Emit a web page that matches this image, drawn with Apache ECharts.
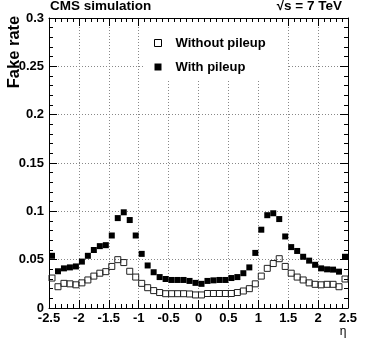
<!DOCTYPE html>
<html lang="en">
<head>
    <meta charset="UTF-8">
    <title>Fake rate</title>
    <script src="https://cdn.jsdelivr.net/npm/echarts@6/dist/echarts.min.js"></script>
</head>
<style>
html,body{margin:0;padding:0;background-color:#fff}
#chartBox{width:374px;height:355px}
</style>
<body>
    <div id="chartBox"></div>
</body>
<script>
// bin centres in eta
var etaBins = [
    -2.45, -2.35, -2.25, -2.15, -2.05, -1.95, -1.85, -1.75, -1.65, -1.55,
    -1.45, -1.35, -1.25, -1.15, -1.05, -0.95, -0.85, -0.75, -0.65, -0.55,
    -0.45, -0.35, -0.25, -0.15, -0.05, 0.05, 0.15, 0.25, 0.35, 0.45,
    0.55, 0.65, 0.75, 0.85, 0.95, 1.05, 1.15, 1.25, 1.35, 1.45,
    1.55, 1.65, 1.75, 1.85, 1.95, 2.05, 2.15, 2.25, 2.35, 2.45
];
var withoutPileup = [
    0.031, 0.022, 0.0255, 0.025, 0.024, 0.026, 0.029, 0.033, 0.036, 0.0376,
    0.043, 0.050, 0.047, 0.038, 0.032, 0.0255, 0.021, 0.018, 0.016, 0.0148,
    0.0148, 0.0148, 0.0148, 0.0145, 0.0135, 0.0135, 0.015, 0.015, 0.015, 0.015,
    0.015, 0.016, 0.0176, 0.020, 0.025, 0.033, 0.041, 0.046, 0.051, 0.043,
    0.036, 0.032, 0.029, 0.026, 0.0245, 0.024, 0.0245, 0.0245, 0.022, 0.030
];
var withPileup = [
    0.054, 0.038, 0.041, 0.042, 0.043, 0.048, 0.054, 0.060, 0.064, 0.065,
    0.075, 0.093, 0.099, 0.091, 0.075, 0.056, 0.044, 0.037, 0.032, 0.030,
    0.029, 0.029, 0.029, 0.028, 0.026, 0.025, 0.028, 0.0286, 0.029, 0.029,
    0.031, 0.032, 0.036, 0.042, 0.057, 0.081, 0.096, 0.098, 0.092, 0.074,
    0.063, 0.059, 0.053, 0.049, 0.0447, 0.041, 0.040, 0.0397, 0.0376, 0.053
];
var xTicks = ['-2.5', '-2', '-1.5', '-1', '-0.5', '0', '0.5', '1', '1.5', '2', '2.5'];
var yTicks = ['0', '0.05', '0.1', '0.15', '0.2', '0.25', '0.3'];

var FONT = '"Liberation Sans", Arial, sans-serif';

function pairs(xs, ys){
    return xs.map(function(x, i){ return [x, ys[i]]; });
}

function frameAxis(base, visible){
    return Object.assign({
        type: 'value',
        axisLine: {show: true, onZero: false, lineStyle: {color: '#000', width: 1}},
        axisTick: {show: true, inside: true, length: 8, lineStyle: {color: '#000'}},
        minorTick: {show: true, splitNumber: 5, length: 4, lineStyle: {color: '#000'}},
        splitLine: {show: visible, lineStyle: {color: '#888', type: [1, 2], width: 1}},
        minorSplitLine: {show: false}
    }, base);
}

function generateChartOption(){
    var xLabel = {
        show: true, margin: 4, color: '#000', fontWeight: 'bold', fontSize: 13, fontFamily: FONT,
        formatter: function(v){ var s = String(Math.round(v * 10) / 10); return xTicks.indexOf(s) >= 0 ? s : ''; }
    };
    var yLabel = {
        show: true, margin: 5, color: '#000', fontWeight: 'bold', fontSize: 13, fontFamily: FONT,
        formatter: function(v){ var s = String(Math.round(v * 100) / 100); return yTicks.indexOf(s) >= 0 ? s : ''; }
    };
    return {
        animation: false,
        textStyle: {fontFamily: FONT},
        title: [
            {text: 'CMS simulation', left: 50, top: -1, padding: 0,
                textStyle: {fontSize: 13.5, fontWeight: 'bold', color: '#000', fontFamily: FONT}},
            {text: '√s = 7 TeV', right: 32, top: -1, padding: 0,
                textStyle: {fontSize: 13.5, fontWeight: 'bold', color: '#000', fontFamily: FONT}}
        ],
        grid: {left: 49, right: 26, top: 18, bottom: 47, containLabel: false},
        xAxis: [
            frameAxis({min: -2.5, max: 2.5, interval: 0.5, position: 'bottom', axisLabel: xLabel}, true),
            frameAxis({min: -2.5, max: 2.5, interval: 0.5, position: 'top', axisLabel: {show: false}}, false)
        ],
        yAxis: [
            frameAxis({min: 0, max: 0.3, interval: 0.05, position: 'left', axisLabel: yLabel}, true),
            frameAxis({min: 0, max: 0.3, interval: 0.05, position: 'right', axisLabel: {show: false}}, false)
        ],
        legend: {
            orient: 'vertical',
            left: 143,
            top: 22,
            padding: [14, 22, 6, 11],
            backgroundColor: '#fff',
            itemWidth: 7,
            itemHeight: 7,
            itemGap: 10,
            icon: 'rect',
            textStyle: {fontSize: 13, fontWeight: 'bold', color: '#000', fontFamily: FONT,
                lineHeight: 14, padding: [0, 0, 0, 9]},
            data: [
                {name: 'Without pileup', itemStyle: {color: '#fff', borderColor: '#000', borderWidth: 1}},
                {name: 'With pileup', itemStyle: {color: '#000', borderWidth: 0}}
            ]
        },
        series: [
            {
                type: 'scatter',
                name: 'Without pileup',
                symbol: 'rect',
                symbolSize: 6,
                itemStyle: {color: 'rgba(255,255,255,0)', borderColor: '#222', borderWidth: 1, opacity: 1},
                data: pairs(etaBins, withoutPileup)
            },
            {
                type: 'scatter',
                name: 'With pileup',
                symbol: 'rect',
                symbolSize: 6,
                itemStyle: {color: '#000', opacity: 1},
                data: pairs(etaBins, withPileup)
            }
        ],
        graphic: [
            {type: 'text', x: 14, y: 52, rotation: Math.PI / 2,
                style: {text: 'Fake rate', fill: '#000', font: 'bold 16.5px ' + FONT,
                    textAlign: 'center', textVerticalAlign: 'middle'}},
            {type: 'text', x: 343, y: 332,
                style: {text: 'η', fill: '#000', font: '12px ' + FONT,
                    textAlign: 'center', textVerticalAlign: 'middle'}}
        ]
    };
}

var chartObj = echarts.init(document.getElementById('chartBox'));
chartObj.setOption(generateChartOption(), true);
</script>
</html>
